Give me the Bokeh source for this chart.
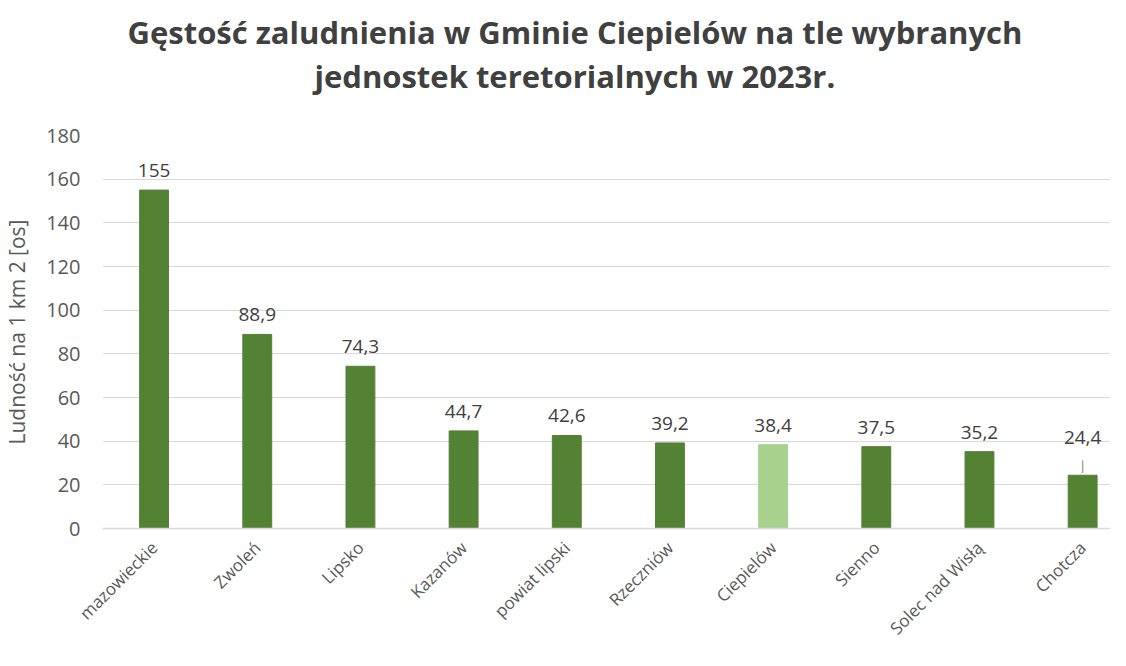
import math
from bokeh.plotting import figure
from bokeh.models import ColumnDataSource, Range1d, FixedTicker, Title
from bokeh.core.properties import value
from bokeh.embed import file_html
from bokeh.resources import INLINE

# ---- data ----
categories = ["mazowieckie", "Zwoleń", "Lipsko", "Kazanów", "powiat lipski",
              "Rzeczniów", "Ciepielów", "Sienno", "Solec nad Wisłą", "Chotcza"]
density = [155, 88.9, 74.3, 44.7, 42.6, 39.2, 38.4, 37.5, 35.2, 24.4]
highlight = "Ciepielów"
y_ticks = [0, 20, 40, 60, 80, 100, 120, 140, 160, 180]
title_lines = ["Gęstość zaludnienia w Gminie Ciepielów na tle wybranych",
               "jednostek teretorialnych w 2023r."]
y_label = "Ludność na 1 km 2 [os]"
leader_labels = ["Chotcza"]

# ---- style ----
DARK = "#548235"
LIGHT = "#A9D18E"
FONT = "Open Sans"
TXT = "#595959"

xs = list(range(len(categories)))
labels = [("%g" % v).replace(".", ",") for v in density]
colors = [LIGHT if c == highlight else DARK for c in categories]
yoff = [-31 if c in leader_labels else -13 for c in categories]

src = ColumnDataSource(dict(x=xs, v=density, label=labels, color=colors, yoff=yoff))

p = figure(width=1110, height=650,
           x_range=Range1d(-0.5, 9.27), y_range=Range1d(0, 180),
           output_backend="svg", toolbar_location=None,
           min_border_left=10, min_border_right=0, min_border_top=10,
           min_border_bottom=0)
p.outline_line_color = None

p.vbar(x="x", top="v", width=0.28, fill_color="color", line_color="color", source=src)

p.text(x="x", y="v", text="label", source=src,
       text_align="center", text_baseline="bottom", y_offset="yoff",
       text_font=value(FONT), text_font_size=value("19px"), text_color="#404040")

# leader line for labels moved up
lx = [x for x, c in zip(xs, categories) if c in leader_labels]
lv = [v for v, c in zip(density, categories) if c in leader_labels]
p.segment(x0=lx, y0=[v + 1.0 for v in lv], x1=lx, y1=[v + 6.8 for v in lv],
          line_color="#a6a6a6", line_width=1.5)

# axes
p.xaxis.ticker = FixedTicker(ticks=xs)
p.xaxis.major_label_overrides = {i: c for i, c in enumerate(categories)}
p.xaxis.major_label_orientation = math.pi / 4
p.xaxis.major_label_text_font = FONT
p.xaxis.major_label_text_font_size = "17px"
p.xaxis.major_label_text_color = TXT
p.xaxis.major_label_standoff = 10
p.xaxis.axis_line_color = "#d9d9d9"
p.xaxis.axis_line_width = 1.5
p.xaxis.major_tick_line_color = None
p.xaxis.minor_tick_line_color = None

p.yaxis.ticker = FixedTicker(ticks=y_ticks)
p.yaxis.major_label_text_font = FONT
p.yaxis.major_label_text_font_size = "20px"
p.yaxis.major_label_text_color = TXT
p.yaxis.major_label_standoff = 16
p.yaxis.axis_line_color = None
p.yaxis.major_tick_line_color = None
p.yaxis.minor_tick_line_color = None
p.yaxis.axis_label = y_label
p.yaxis.axis_label_text_font = FONT
p.yaxis.axis_label_text_font_style = "normal"
p.yaxis.axis_label_text_font_size = "21px"
p.yaxis.axis_label_text_color = TXT
p.yaxis.axis_label_standoff = 12

p.xgrid.grid_line_color = None
p.ygrid.grid_line_color = "#d9d9d9"
p.ygrid.grid_line_width = 1


def make_title(text, offset, standoff, valign):
    t = Title(text=text, standoff=standoff)
    t.align = "left"
    t.offset = offset
    t.vertical_align = valign
    t.text_font = FONT
    t.text_font_size = "31px"
    t.text_font_style = "bold"
    t.text_color = "#404040"
    return t


try:
    t2 = make_title(title_lines[1], 212, -12, "top")
    t1 = make_title(title_lines[0], 25, 16, "bottom")
    spacer_standoff = 40
except Exception:
    t2 = make_title(title_lines[1], 212, 0, "top")
    t1 = make_title(title_lines[0], 25, 8, "bottom")
    spacer_standoff = 36

# spacer between the title block and the plot area (innermost)
p.add_layout(Title(text=" ", text_font_size="1px", standoff=spacer_standoff), "above")
# second title line, then first (outermost)
p.add_layout(t2, "above")
p.add_layout(t1, "above")

open("out.html", "w").write(file_html(p, INLINE))
